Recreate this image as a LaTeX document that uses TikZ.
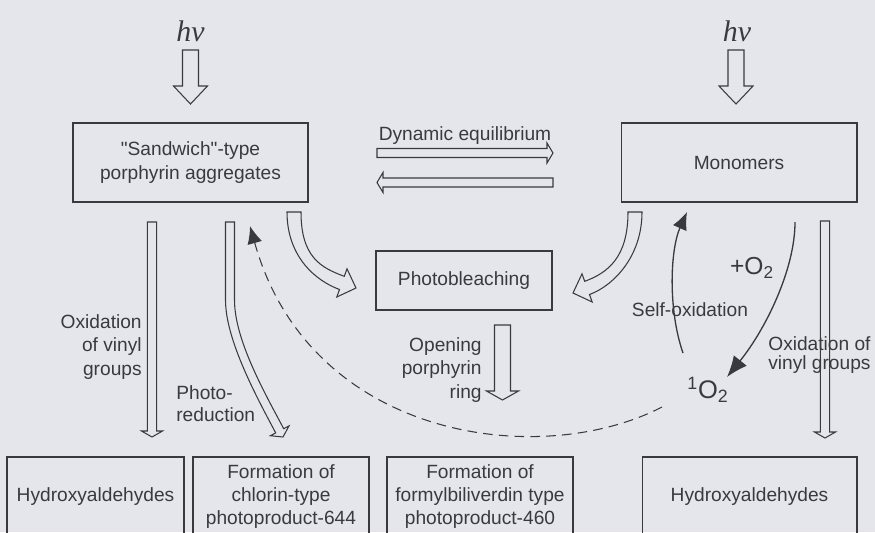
\documentclass[tikz,border=0pt]{standalone}
\usepackage{fontspec}
\setmainfont{Liberation Sans}
\newfontfamily\hvfont{Liberation Serif}
\usetikzlibrary{arrows.meta}

\definecolor{paper}{RGB}{229,230,236}
\definecolor{ink}{RGB}{58,58,62}

\tikzset{
  stage/.style={draw=ink, line width=0.6pt, inner sep=0pt, align=center, minimum height=1.58cm},
  lbl/.style={inner sep=0pt},
  blockarrow/.style={draw=ink, line width=0.6pt, line join=miter},
  solidarc/.style={draw=ink, line width=0.75pt, -{Latex[length=10pt,width=8.5pt]}},
}

\begin{document}
\begin{tikzpicture}[x=0.02cm,y=-0.02cm,every node/.style={font=\fontsize{10.9}{13.2}\selectfont, text=ink}]
\useasboundingbox (0,0) rectangle (875,532);
\clip (0,0) rectangle (875,532);
\fill[paper] (0,0) rectangle (875,532);

% boxes
\node[stage, minimum width=4.70cm] (sand) at (190.5,162.5) {\textquotedbl Sandwich\textquotedbl-type\\porphyrin aggregates};
\node[stage, minimum width=4.72cm] (mono) at (739,162.5) {Monomers};
\node[stage, minimum width=3.52cm, minimum height=1.18cm] (bleach) at (464,280.5) {Photobleaching};
\node[stage, minimum width=3.54cm] (hyd1) at (95.5,496.5) {Hydroxyaldehydes};
\node[stage, minimum width=3.52cm] (chlor) at (281,496.5) {Formation of\\chlorin-type\\photoproduct-644};
\node[stage, minimum width=3.72cm] (formyl) at (480,496.5) {Formation of\\formylbiliverdin type\\photoproduct-460};
\node[stage, minimum width=4.30cm] (hyd2) at (749.5,496.5) {Hydroxyaldehydes};

% light
\node[lbl, font=\hvfont\itshape\fontsize{17}{19}\selectfont] (hvl) at (190.5,31) {hν};
\node[lbl, font=\hvfont\itshape\fontsize{17}{19}\selectfont] (hvr) at (737,31) {hν};
\draw[blockarrow] (182.5,50) -- (182.5,86) -- (173.5,86) -- (190.5,104) -- (207.5,86) -- (198.5,86) -- (198.5,50) -- cycle;
\draw[blockarrow] (728,50) -- (728,86) -- (719,86) -- (736,104) -- (753,86) -- (744,86) -- (744,50) -- cycle;

% equilibrium
\node[lbl] (eqtxt) at (465,136) {Dynamic equilibrium};
\draw[blockarrow] (377,148.5) -- (547,148.5) -- (547,143) -- (553,153) -- (547,163) -- (547,157.5) -- (377,157.5) -- cycle;
\draw[blockarrow] (553,178) -- (383,178) -- (383,172.5) -- (377,182.5) -- (383,192.5) -- (383,187) -- (553,187) -- cycle;

% to photobleaching
\draw[blockarrow] (287,212) .. controls (287,257) and (316.0,280.9) .. (339.5,289.5) -- (336.8,297.0) -- (356,288)
  -- (347.0,268.8) -- (344.3,276.3) .. controls (320.8,267.7) and (301,257) .. (301,212) -- cycle;
\draw[blockarrow] (628,212) .. controls (628,257) and (608.2,272.7) .. (584.7,281.3) -- (582.0,273.8) -- (573,293)
  -- (592.2,302.0) -- (589.5,294.5) .. controls (613.0,285.9) and (642,257) .. (642,212) -- cycle;
\draw[blockarrow] (494.5,325) -- (494.5,391) -- (486.5,391) -- (502.5,400) -- (518.5,391) -- (510.5,391) -- (510.5,325) -- cycle;
\node[lbl, anchor=east, align=right] (opentxt) at (482,370) {Opening\\porphyrin\\ring};

% left branch
\draw[blockarrow] (147.3,222) -- (147.3,431) -- (141.5,431) -- (152,437) -- (162.5,431) -- (156.7,431) -- (156.7,222) -- cycle;
\node[lbl, anchor=east, align=right, font=\fontsize{10.9}{13.6}\selectfont] (oxltxt) at (142,347) {Oxidation\\of vinyl\\groups};
\draw[blockarrow] (225.5,222) -- (225.5,300) .. controls (225.5,340) and (257.0,397.6) .. (275.7,432.9) -- (270.4,435.7) -- (283,437)
  -- (289.0,425.9) -- (283.7,428.7) .. controls (265.0,393.4) and (234.5,340) .. (234.5,300) -- (234.5,222) -- cycle;
\node[lbl, anchor=west, align=left, font=\fontsize{10.9}{12.6}\selectfont] (redtxt) at (176,404) {Photo-\\reduction};

% right branch
\draw[blockarrow] (820.3,221) -- (820.3,432) -- (814.5,432) -- (825,438) -- (835.5,432) -- (829.7,432) -- (829.7,221) -- cycle;
\node[lbl, anchor=west, align=left, font=\fontsize{10.9}{10.8}\selectfont] (oxrtxt) at (768,355) {Oxidation of\\vinyl groups};

% singlet oxygen
\node[lbl, font=\fontsize{14.5}{16}\selectfont] (o2) at (708,390) {\textsuperscript{1}O\textsubscript{2}};
\node[lbl, font=\fontsize{14}{16}\selectfont] (plustxt) at (752,268) {+O\textsubscript{2}};
\node[lbl] (selftxt) at (690,310) {Self-oxidation};
\coordinate (sox0) at (683,353);
\coordinate (sox1) at (687,212);
\coordinate (pox0) at (795,222);
\coordinate (pox1) at (727,377);
\coordinate (dash0) at (662,407);
\coordinate (dash1) at (250,226);
\draw[solidarc] (sox0) .. controls (668,310) and (670,250) .. (sox1);
\draw[solidarc, -{Latex[length=12pt,width=9.5pt]}] (pox0) .. controls (795,270) and (765,330) .. (pox1);
\draw[solidarc, line width=0.6pt, dash pattern=on 5.5pt off 3.5pt] (dash0) .. controls (540,470) and (310,440) .. (dash1);
\end{tikzpicture}
\end{document}
